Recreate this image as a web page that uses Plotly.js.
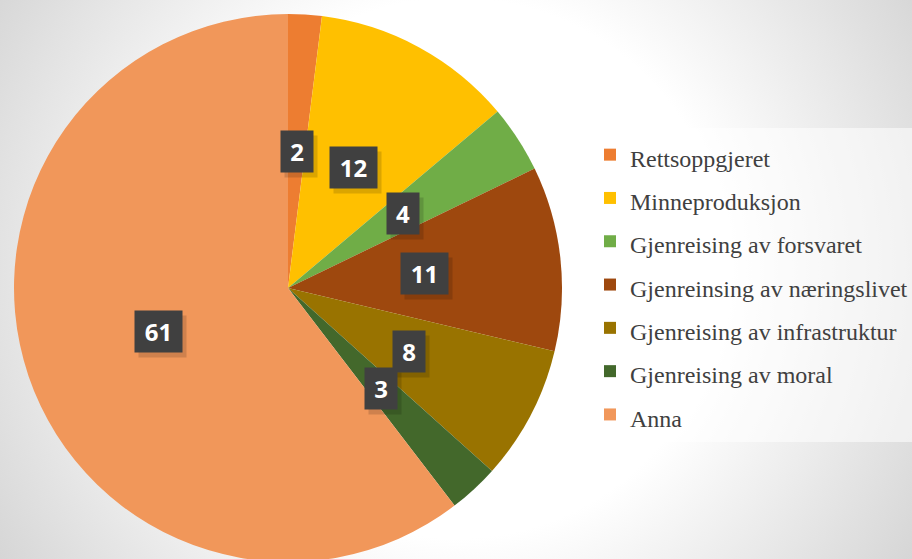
<!DOCTYPE html>
<html>
<head>
<meta charset="utf-8">
<script src="https://cdn.plot.ly/plotly-3.0.1.min.js"></script>
<style>
  html, body { margin: 0; padding: 0; width: 912px; height: 559px; overflow: hidden;
    background: radial-gradient(circle at 50% 48%, #ffffff 0px, #ffffff 270px, #d6d6d6 540px); }
  #chart { width: 912px; height: 600px; }
</style>
</head>
<body>
<div id="chart"></div>
<script>
const categories = ["Rettsoppgjeret", "Minneproduksjon", "Gjenreising av forsvaret",
  "Gjenreinsing av næringslivet", "Gjenreising av infrastruktur", "Gjenreising av moral", "Anna"];
const values = [2, 12, 4, 11, 8, 3, 61];
const colors = ["#ED7D31", "#FFC000", "#70AD47", "#9E480E", "#997300", "#43682B", "#F1975A"];

const W = 912, H = 600;
const domX = [14 / W, 562 / W];
const domY = [(H - 562) / H, (H - 14) / H];

// label positions derived from the data (slice mid-angles, half radius)
const cx = (domX[0] + domX[1]) / 2 * W;
const cyTop = H - (domY[0] + domY[1]) / 2 * H;
const R = Math.min((domX[1] - domX[0]) * W, (domY[1] - domY[0]) * H) / 2;
const total = values.reduce((a, b) => a + b, 0);
let cum = 0;
const annotations = [];
const shadows = [];
values.forEach((v, i) => {
  const mid = (cum + v / 2) / total * 2 * Math.PI;
  cum += v;
  const px = cx + 0.5 * R * Math.sin(mid);
  const py = cyTop - 0.5 * R * Math.cos(mid);
  const x = px / W, y = (H - py) / H;
  const w = String(v).length === 1 ? 32 : 47;
  shadows.push({
    x: x, y: y, xref: "paper", yref: "paper", xanchor: "center", yanchor: "middle",
    showarrow: false, text: " ",
    width: w, height: 41, borderpad: 0, bgcolor: "rgba(0,0,0,0.14)",
    xshift: 4, yshift: -5
  });
  annotations.push({
    x: x, y: y, xref: "paper", yref: "paper", xanchor: "center", yanchor: "middle",
    showarrow: false,
    text: "<b>" + v + "</b>", width: w, height: 41, borderpad: 0,
    bgcolor: "#404040", align: "center", valign: "middle",
    font: { family: "Open Sans", size: 24, color: "#ffffff" }
  });
});

const data = [{
  type: "pie",
  labels: categories.map(c => '<span style="font-size:24px;font-family:\'Liberation Serif\',serif">' + c + '</span>'),
  values: values,
  marker: { colors: colors, line: { width: 0 } },
  sort: false,
  direction: "clockwise",
  rotation: 0,
  textinfo: "none",
  hoverinfo: "label+value",
  domain: { x: domX, y: domY }
}];

const layout = {
  width: W, height: H,
  margin: { l: 0, r: 0, t: 0, b: 0, autoexpand: false },
  paper_bgcolor: "rgba(0,0,0,0)",
  plot_bgcolor: "rgba(0,0,0,0)",
  showlegend: true,
  legend: {
    x: 590 / W, xanchor: "left", y: (H - 128) / H, yanchor: "top",
    bgcolor: "rgba(255,255,255,0.55)",
    font: { family: "Liberation Serif, serif", size: 31, color: "#404040" },
    traceorder: "normal"
  },
  annotations: shadows.concat(annotations)
};

Plotly.newPlot("chart", data, layout, { displayModeBar: false, staticPlot: true });
</script>
</body>
</html>
